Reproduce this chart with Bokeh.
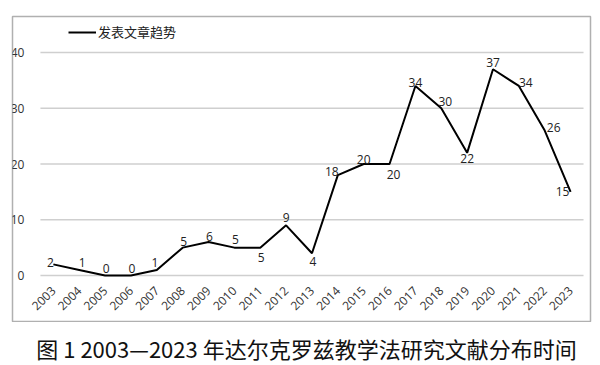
import math
from bokeh.plotting import figure
from bokeh.models import (ColumnDataSource, FixedTicker, Legend, LegendItem, Range1d,
                          LinearAxis)
from bokeh.layouts import column
from bokeh.core.properties import value
from bokeh.embed import file_html
from bokeh.resources import INLINE

years = list(range(2003, 2024))
counts = [2, 1, 0, 0, 1, 5, 6, 5, 5, 9, 4, 18, 20, 20, 34, 30, 22, 37, 34, 26, 15]
y_ticks = [0, 10, 20, 30, 40]
series_name = "发表文章趋势"
caption = "图 1 2003—2023 年达尔克罗兹教学法研究文献分布时间"

# label placement offsets in screen pixels (style only)
label_dx = [-3, 3, 1, 1, -2, 1, 1, 1, 1, 0, 1, -6, 0, 4, 0, 4, 0, 0, 7, 9, -8]
label_dy = [-2, -7, -7, -7, -7, -6, -6, -8, 10, -8, 8, -4, -5, 10, -3, -7, 6, -7, -3, -3, 0]

src = ColumnDataSource(dict(x=years, y=counts, t=[str(c) for c in counts],
                            dx=label_dx, dy=label_dy))

x_lo, x_hi = years[0] - 0.5, years[-1] + 0.5   # category band edges

p = figure(width=592, height=322, output_backend="svg", toolbar_location=None,
           x_range=Range1d(years[0] - 1.58, years[-1] + 0.77),
           y_range=Range1d(-8.25, 46.46),
           x_axis_location=None, y_axis_location=None,
           min_border_left=12, min_border_right=2, min_border_top=16, min_border_bottom=1)
p.outline_line_color = "#b0b0b0"
p.outline_line_width = 1.5
p.background_fill_color = "white"
p.border_fill_color = "white"
p.grid.visible = False

# horizontal gridlines limited to the category band
gsrc = ColumnDataSource(dict(x0=[x_lo] * len(y_ticks), x1=[x_hi] * len(y_ticks), y=y_ticks))
p.segment("x0", "y", "x1", "y", source=gsrc, line_color="#cfcfcf", line_width=1.5)

yax = LinearAxis(ticker=FixedTicker(ticks=y_ticks), fixed_location=x_lo)
yax.axis_line_color = None
yax.major_tick_line_color = None
yax.minor_tick_line_color = None
yax.major_label_standoff = 10
yax.major_label_text_font = "Open Sans"
yax.major_label_text_font_size = "12px"
yax.major_label_text_color = "#333333"
p.add_layout(yax, "left")

xax = LinearAxis(ticker=FixedTicker(ticks=years), fixed_location=0)
xax.axis_line_color = None
xax.major_tick_line_color = None
xax.minor_tick_line_color = None
xax.major_label_orientation = math.pi / 4
xax.major_label_standoff = 7
xax.major_label_text_font = "Open Sans"
xax.major_label_text_font_size = "12px"
xax.major_label_text_color = "#333333"
p.add_layout(xax, "below")

r = p.line("x", "y", source=src, line_color="black", line_width=2)
p.text("x", "y", text="t", source=src, x_offset="dx", y_offset="dy",
       text_align="center", text_baseline="middle", text_font=value("Open Sans"),
       text_font_size="12px", text_color="#222222")

legend = Legend(items=[LegendItem(label=series_name, renderers=[r])], location=(56, 280))
legend.border_line_color = None
legend.background_fill_alpha = 0
legend.padding = 0
legend.margin = 0
legend.glyph_width = 28
legend.glyph_height = 16
legend.label_height = 16
legend.label_standoff = 2
legend.label_text_font = "Noto Sans CJK SC"
legend.label_text_font_size = "13px"
legend.label_text_color = "#222222"
p.add_layout(legend, "center")

c = figure(width=592, height=43, output_backend="svg", toolbar_location=None,
           x_range=Range1d(0, 1), y_range=Range1d(0, 1), min_border=0)
c.axis.visible = False
c.grid.visible = False
c.outline_line_color = None
c.text(x=[0.5], y=[0.4], text=[caption], x_offset=5, text_align="center",
       text_baseline="middle", text_font=value("Noto Sans CJK SC"),
       text_font_size="22px", text_color="#111111")

layout = column(p, c, spacing=0)
open("out.html", "w").write(file_html(layout, INLINE))
